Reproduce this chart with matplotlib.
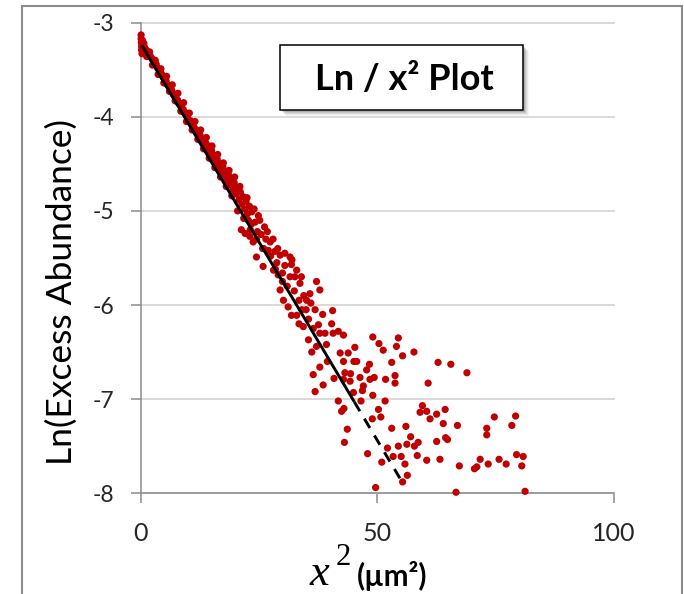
import matplotlib
matplotlib.use("Agg")
import matplotlib.pyplot as plt
from matplotlib.patches import Rectangle

# ---------------- data ----------------
x_sq = [
    # dense band, x^2 from 0 to 20
    0.1, 0.1, 0.15, 0.2, 0.2, 0.3, 0.4, 0.5, 0.6, 0.8, 1.0, 1.2, 1.5, 1.8, 2.1,
    2.4, 2.7, 3.0, 3.3, 3.6, 3.9, 4.2, 4.5, 4.8, 5.1, 5.4, 5.7, 6.0, 6.3, 6.6,
    6.9, 7.2, 7.5, 7.8, 8.1, 8.4, 8.7, 9.0, 9.3, 9.6, 9.9, 10.2, 10.5, 10.8,
    11.1, 11.4, 11.7, 12.0, 12.3, 12.6, 12.9, 13.2, 13.5, 13.8, 14.1, 14.4,
    14.7, 15.0, 15.3, 15.6, 15.9, 16.2, 16.5, 16.8, 17.1, 17.4, 17.7, 18.0,
    18.3, 18.6, 18.9, 19.2, 19.5, 19.8,
    0.7, 1.3, 1.9, 2.5, 3.1, 3.7, 4.3, 4.9, 5.5, 6.1, 6.7, 7.3, 7.9, 8.5, 9.1,
    9.7, 10.3, 10.9, 11.5, 12.1, 12.7, 13.3, 13.9, 14.5, 15.1, 15.7, 16.3,
    16.9, 17.5, 18.1, 18.7, 19.3, 19.9,
    # widening band, 20 to 40
    20.2, 20.5, 20.8, 21.1, 21.4, 21.7, 22.0, 22.3, 22.6, 23.0, 23.5, 24.9,
    22.8, 23.4, 24.2, 26.2, 21.3, 22.1, 23.1, 23.8, 24.7, 25.5, 26.5, 27.4,
    28.4, 29.5, 24.5, 25.9, 28.1, 31.6, 31.9, 33.0, 32.6, 33.7, 31.6, 29.1,
    29.5, 30.2, 31.2, 31.9, 33.0, 34.1, 35.1, 35.8, 37.2, 37.9, 36.9, 34.4,
    37.6, 37.9, 39.0, 35.5, 37.2, 39.3, 36.2, 37.9, 36.5, 38.6, 36.9, 27.0,
    30.5, 28.8, 26.0, 32.5, 34.5, 30.0, 35.5, 38.5, 39.5,
    20.5, 21.0, 21.8, 22.5, 23.2, 24.0, 24.5, 25.2, 25.8, 26.8, 27.5, 28.0,
    28.5, 29.0, 30.0, 30.5, 31.0, 32.0, 33.5, 34.0, 35.0, 36.0, 33.5, 36.5,
    # scattered tail, 40 to 82
    40.6, 40.4, 40.7, 41.8, 42.9, 49.1, 50.4, 51.3, 54.5, 54.1, 55.4, 57.8,
    53.1, 62.9, 65.6, 69.0, 60.8, 53.8, 53.8, 51.8, 49.4, 48.5, 46.4, 47.8,
    48.4, 45.7, 45.1, 45.3, 43.9, 42.2, 42.9, 43.2, 44.4, 40.9, 42.9, 44.3,
    47.1, 46.9, 45.0, 49.1, 51.7, 46.6, 41.8, 43.0, 42.5, 50.3, 49.0, 50.8,
    59.6, 59.1, 60.5, 62.6, 64.4, 61.2, 64.0, 67.0, 53.1, 56.1, 57.1, 56.3,
    54.5, 58.7, 57.9, 62.6, 64.5, 64.9, 43.7, 43.1, 48.0, 52.2, 53.4, 55.1,
    58.5, 60.5, 63.3, 55.9, 51.0, 56.4, 55.4, 49.7, 67.4, 70.6, 71.1, 71.8,
    73.5, 75.8, 77.3, 79.5, 80.9, 80.6, 74.8, 79.3, 78.5, 73.2, 73.2, 66.7,
    81.3,
]
ln_abund = [
    -3.13, -3.17, -3.21, -3.25, -3.29, -3.33, -3.19, -3.23, -3.28, -3.26,
    -3.30, -3.29, -3.31, -3.34, -3.36, -3.38, -3.41, -3.43, -3.44, -3.48,
    -3.50, -3.52, -3.55, -3.58, -3.60, -3.62, -3.66, -3.67, -3.71, -3.72,
    -3.76, -3.77, -3.80, -3.82, -3.86, -3.86, -3.91, -3.92, -3.95, -3.98,
    -3.99, -4.04, -4.04, -4.08, -4.10, -4.12, -4.16, -4.15, -4.21, -4.20,
    -4.26, -4.24, -4.30, -4.28, -4.35, -4.31, -4.40, -4.36, -4.44, -4.41,
    -4.49, -4.45, -4.54, -4.50, -4.58, -4.53, -4.63, -4.58, -4.67, -4.62,
    -4.72, -4.66, -4.77, -4.70,
    -3.22, -3.36, -3.31, -3.45, -3.40, -3.55, -3.49, -3.64, -3.57, -3.73,
    -3.66, -3.83, -3.75, -3.94, -3.85, -4.05, -3.96, -4.14, -4.05, -4.24,
    -4.14, -4.34, -4.22, -4.44, -4.31, -4.54, -4.40, -4.64, -4.49, -4.74,
    -4.57, -4.84, -4.64,
    -4.82, -4.76, -4.88, -4.80, -4.93, -4.85, -4.98, -4.90, -5.03, -4.95,
    -5.01, -5.05, -5.10, -5.14, -5.12, -5.17, -5.20, -5.24, -5.27, -5.33,
    -5.22, -5.25, -5.30, -5.33, -5.43, -5.47, -5.49, -5.59, -5.63, -5.49,
    -5.57, -5.63, -5.70, -5.77, -5.70, -5.68, -5.84, -5.95, -6.02, -6.11,
    -6.11, -6.05, -5.95, -5.88, -5.75, -5.84, -6.05, -6.23, -6.21, -6.30,
    -6.30, -6.37, -6.44, -6.42, -6.50, -6.66, -6.74, -6.85, -6.92, -5.42,
    -5.58, -5.55, -5.40, -5.85, -5.90, -5.75, -6.15, -6.10, -6.60,
    -5.00, -4.74, -5.08, -4.86, -5.20, -4.98, -5.30, -5.10, -5.40, -5.22,
    -5.48, -5.30, -5.62, -5.40, -5.66, -5.45, -5.80, -5.52, -5.95, -5.70,
    -6.05, -5.98, -6.20, -6.25,
    -6.06, -6.20, -6.30, -6.28, -6.32, -6.34, -6.41, -6.48, -6.35, -6.44,
    -6.54, -6.50, -6.61, -6.61, -6.63, -6.72, -6.83, -6.75, -6.83, -6.79,
    -6.77, -6.79, -6.77, -6.69, -6.63, -6.60, -6.60, -6.45, -6.51, -6.51,
    -6.60, -6.72, -6.73, -6.78, -6.79, -6.81, -6.86, -6.91, -6.93, -6.96,
    -7.02, -7.02, -7.02, -7.10, -7.13, -7.11, -7.21, -7.19, -7.07, -7.14,
    -7.13, -7.16, -7.11, -7.21, -7.26, -7.28, -7.31, -7.29, -7.40, -7.48,
    -7.50, -7.46, -7.50, -7.45, -7.41, -7.43, -7.32, -7.46, -7.58, -7.52,
    -7.61, -7.61, -7.60, -7.65, -7.64, -7.69, -7.67, -7.81, -7.88, -7.94,
    -7.71, -7.74, -7.72, -7.64, -7.69, -7.64, -7.69, -7.59, -7.61, -7.71,
    -7.19, -7.18, -7.28, -7.31, -7.38, -7.99, -7.98,
]
trend_x = [0.25, 45.2]
trend_y = [-3.24, -7.03]
trend_ext_x = [45.2, 55.3]
trend_ext_y = [-7.03, -7.88]
x_ticks = [0, 50, 100]
y_ticks = [-3, -4, -5, -6, -7, -8]
title_text = "Ln / x\u00b2 Plot"
y_label = "Ln(Excess Abundance)"

# ---------------- figure ----------------
W, H, DPI = 684, 594, 100
fig = plt.figure(figsize=(W / DPI, H / DPI), dpi=DPI)
fig.patch.set_facecolor("white")


def fx(px):
    return px / W


def fy(py):
    return 1 - py / H


ax = fig.add_axes([fx(140.6), fy(493.2), (613.5 - 140.6) / W, (493.2 - 22.7) / H])
ax.set_xlim(0, 100)
ax.set_ylim(-8, -3)
ax.set_facecolor("none")

axis_gray = "#8c8c8c"
for s in ("top", "right"):
    ax.spines[s].set_visible(False)
for s in ("left", "bottom"):
    ax.spines[s].set_color(axis_gray)
    ax.spines[s].set_linewidth(1.1)

ax.set_xticks(x_ticks)
ax.set_yticks(y_ticks)
ax.set_xticklabels([str(v) for v in x_ticks])
ax.set_yticklabels([str(v) for v in y_ticks])
ax.tick_params(axis="both", direction="out", length=7.2, width=1.1, color=axis_gray,
               labelcolor="#262626")
ax.tick_params(axis="y", pad=12, labelsize=16.5)
ax.tick_params(axis="x", pad=13.5, labelsize=18)
for lab in ax.get_xticklabels() + ax.get_yticklabels():
    lab.set_fontfamily("Lato")

ax.set_axisbelow(True)
ax.yaxis.grid(True, color="#d9d9d9", linewidth=1.4)
ax.xaxis.grid(False)
for gl in ax.get_ygridlines():
    gl.set_clip_on(False)

ax.scatter(x_sq, ln_abund, s=27, c="#c00000", edgecolors="none", zorder=3, clip_on=False)
ax.plot(trend_x, trend_y, color="black", linewidth=2.1, zorder=4, solid_capstyle="butt")
ax.plot(trend_ext_x, trend_ext_y, color="black", linewidth=2.1, zorder=4,
        linestyle=(0, (3.7, 3.0)))

# chart-area border
fig.patches.append(Rectangle((fx(22), -0.05), fx(682) - fx(22), fy(5.5) + 0.05,
                             transform=fig.transFigure, fill=False,
                             edgecolor=axis_gray, linewidth=1.5, zorder=0))

# title box with soft shadow
bx0, by0, bx1, by1 = 280, 45, 523, 110
for off, a in [(6, 0.05), (5, 0.08), (4, 0.12), (3, 0.16), (2, 0.2)]:
    fig.patches.append(Rectangle((fx(bx0 + off), fy(by1 + off)), (bx1 - bx0) / W,
                                 (by1 - by0) / H, transform=fig.transFigure,
                                 facecolor="#606060", edgecolor="none", alpha=a, zorder=5))
fig.patches.append(Rectangle((fx(bx0), fy(by1)), (bx1 - bx0) / W, (by1 - by0) / H,
                             transform=fig.transFigure, facecolor="white",
                             edgecolor="black", linewidth=1.1, zorder=6))

renderer = fig.canvas.get_renderer()


def fit(t, target, use_height=False):
    bb = t.get_window_extent(renderer=renderer)
    cur = bb.height if use_height else bb.width
    t.set_fontsize(t.get_fontsize() * target / cur)


t_title = fig.text(fx(404.5), fy(90), title_text, ha="center", va="baseline",
                   fontfamily="Lato", fontweight="bold", fontsize=22, color="black",
                   zorder=7)
fit(t_title, 178)

t_ylab = fig.text(fx(62), fy(291.7), y_label, rotation=90, ha="center", va="center",
                  fontfamily="Lato", fontsize=22, color="black")
fit(t_ylab, 345, use_height=True)

t_x = fig.text(fx(310), fy(585), "x", ha="left", va="baseline",
               fontfamily="Liberation Serif", style="italic", fontsize=32, color="black")
t_2 = fig.text(fx(336), fy(565), "2", ha="left", va="baseline",
               fontfamily="Liberation Serif", fontsize=22, color="black")
t_unit = fig.text(fx(357), fy(586), "(\u00b5m\u00b2)", ha="left", va="baseline",
                  fontfamily="Lato", fontweight="bold", fontsize=18, color="black")
fit(t_unit, 70)

fig.savefig("out.png", dpi=DPI, facecolor="white")
